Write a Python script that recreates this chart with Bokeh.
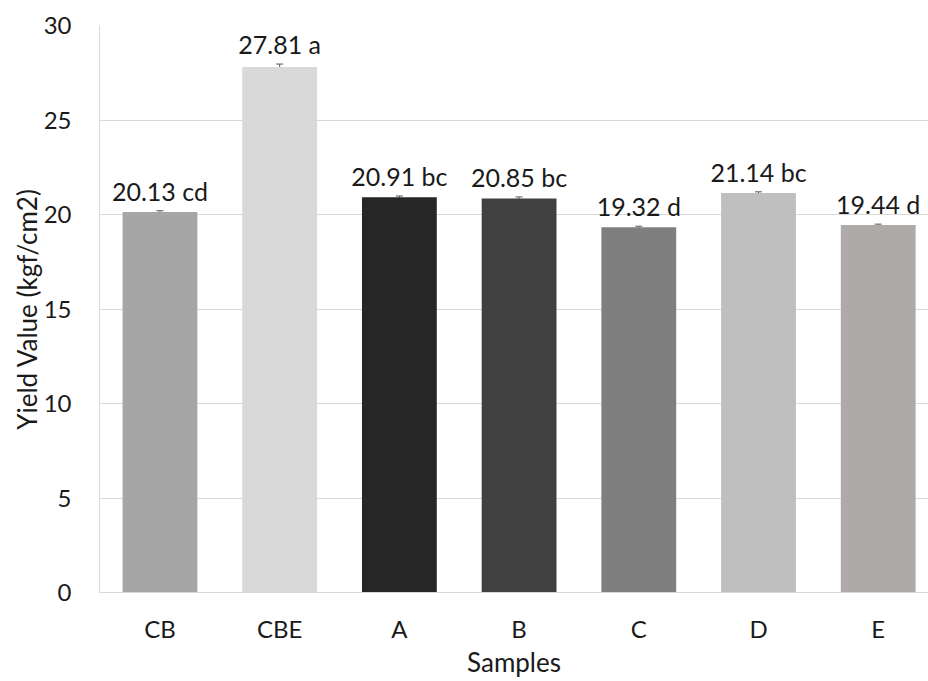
from bokeh.plotting import figure
from bokeh.models import Range1d, FixedTicker, ColumnDataSource, Whisker, TeeHead, LabelSet
from bokeh.core.properties import value
from bokeh.embed import file_html
from bokeh.resources import INLINE

samples = ["CB", "CBE", "A", "B", "C", "D", "E"]
yield_values = [20.13, 27.81, 20.91, 20.85, 19.32, 21.14, 19.44]
errors = [0.07, 0.15, 0.07, 0.08, 0.06, 0.06, 0.05]
letters = ["cd", "a", "bc", "bc", "d", "bc", "d"]
colors = ["#a6a6a6", "#d9d9d9", "#262626", "#404040", "#7f7f7f", "#bfbfbf", "#aeaaaa"]
y_ticks = [0, 5, 10, 15, 20, 25, 30]

FONT = "Lato"
idx = list(range(len(samples)))
src = ColumnDataSource(dict(
    x=idx, top=yield_values,
    upper=[v + e for v, e in zip(yield_values, errors)],
    lower=[v - e for v, e in zip(yield_values, errors)],
    color=colors,
    label=[f"{v:.2f} {l}" for v, l in zip(yield_values, letters)],
))

p = figure(width=928, height=681, output_backend="svg", toolbar_location=None,
           x_range=Range1d(-0.505, 6.42), y_range=Range1d(0, 30),
           min_border_left=99, min_border_right=0, min_border_top=25, min_border_bottom=89)
p.outline_line_color = None
p.background_fill_color = "white"
p.border_fill_color = "white"

p.vbar(x="x", top="top", width=0.625, fill_color="color", line_color=None, source=src)

w = Whisker(base="x", upper="upper", lower="lower", source=src,
            line_color="#595959", line_width=1,
            upper_head=TeeHead(size=7, line_color="#595959"),
            lower_head=TeeHead(size=7, line_color="#595959"))
p.add_layout(w)

labels = LabelSet(x="x", y="upper", text="label", source=src, y_offset=10,
                  text_align="center", text_baseline="alphabetic",
                  text_font=value(FONT), text_font_size="25px", text_color="#1a1a1a")
p.add_layout(labels)

p.xaxis.ticker = FixedTicker(ticks=idx)
p.xaxis.major_label_overrides = {i: s for i, s in zip(idx, samples)}
p.yaxis.ticker = FixedTicker(ticks=y_ticks)
p.xgrid.grid_line_color = None
p.ygrid.grid_line_color = "#d9d9d9"
p.ygrid.grid_line_width = 1

for ax in (p.xaxis, p.yaxis):
    ax.major_tick_line_color = None
    ax.minor_tick_line_color = None
    ax.axis_line_color = "#d9d9d9"
    ax.major_label_text_font = FONT
    ax.major_label_text_font_size = "24px"
    ax.major_label_text_color = "#1a1a1a"
    ax.axis_label_text_font = FONT
    ax.axis_label_text_font_size = "26px"
    ax.axis_label_text_font_style = "normal"
    ax.axis_label_text_color = "#1a1a1a"

p.xaxis.axis_label = "Samples"
p.yaxis.axis_label = "Yield Value (kgf/cm2)"
p.xaxis.major_label_standoff = 15
p.xaxis.axis_label_standoff = 0
p.yaxis.major_label_standoff = 22
p.yaxis.axis_label_standoff = -2

open("out.html", "w").write(file_html(p, INLINE))
